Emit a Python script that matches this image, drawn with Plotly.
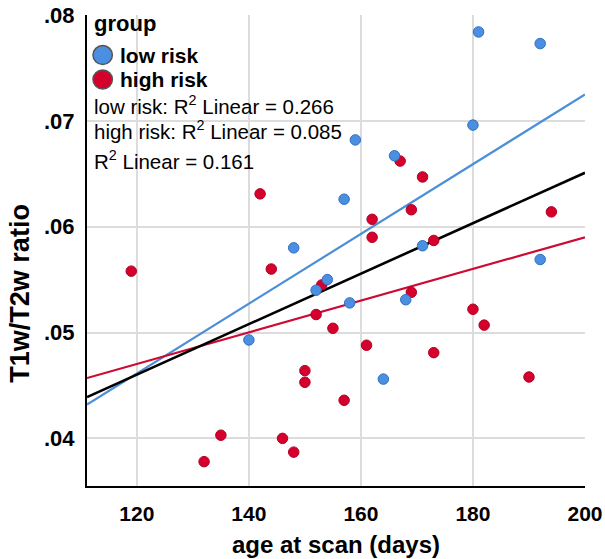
import plotly.graph_objects as go

# ---- data ----
low_age = [181, 192, 180, 159, 166, 157, 148, 171, 154, 152, 158, 168, 140, 164, 192]
low_ratio = [0.0784, 0.0773, 0.0696, 0.0682, 0.0667, 0.0626, 0.0580, 0.0582, 0.0550,
             0.0540, 0.0528, 0.0531, 0.0493, 0.0456, 0.0569]

high_age = [119, 142, 144, 135, 132, 146, 148, 167, 171, 169, 162, 162, 173, 153, 169,
            152, 155, 161, 173, 150, 150, 157, 194, 180, 182, 190]
high_ratio = [0.0558, 0.0631, 0.0560, 0.0403, 0.0378, 0.0400, 0.0387, 0.0662, 0.0647,
              0.0616, 0.0607, 0.0590, 0.0587, 0.0545, 0.0538, 0.0517, 0.0504, 0.0488,
              0.0481, 0.0464, 0.0453, 0.0436, 0.0614, 0.0522, 0.0507, 0.0458]

# fitted linear lines as shown in the chart, evaluated at the ends of the x axis
fit_age = [111.1, 200]
fit_low = [0.0432, 0.0725]
fit_high = [0.0457, 0.0590]
fit_all = [0.0439, 0.0651]

group_names = ["low risk", "high risk"]
r2_labels = ["low risk: R<sup>2</sup> Linear = 0.266",
             "high risk: R<sup>2</sup> Linear = 0.085",
             "R<sup>2</sup> Linear = 0.161"]

x_ticks = [120, 140, 160, 180, 200]
y_ticks = [0.04, 0.05, 0.06, 0.07, 0.08]
y_ticktext = [".04", ".05", ".06", ".07", ".08"]
x_range = [111.1, 200]
y_range = [0.0355, 0.08]

# ---- styles ----
BLUE_FILL = "#4b8fe0"
BLUE_EDGE = "#2f6fc4"
BLUE_LINE = "#4a8fd8"
RED_FILL = "#d5002b"
RED_EDGE = "#b00024"
RED_LINE = "#cc0a33"
FONT = "Liberation Sans, Arial, sans-serif"

fig = go.Figure()

fig.add_trace(go.Scatter(x=fit_age, y=fit_low, mode="lines", line=dict(color=BLUE_LINE, width=2.2),
                         showlegend=False, hoverinfo="skip"))
fig.add_trace(go.Scatter(x=fit_age, y=fit_high, mode="lines", line=dict(color=RED_LINE, width=2.2),
                         showlegend=False, hoverinfo="skip"))
fig.add_trace(go.Scatter(x=fit_age, y=fit_all, mode="lines", line=dict(color="black", width=2.6),
                         showlegend=False, hoverinfo="skip"))

fig.add_trace(go.Scatter(x=high_age, y=high_ratio, mode="markers", name=group_names[1],
                         marker=dict(size=10.5, color=RED_FILL, line=dict(color=RED_EDGE, width=1)),
                         showlegend=False))
fig.add_trace(go.Scatter(x=low_age, y=low_ratio, mode="markers", name=group_names[0],
                         marker=dict(size=10.5, color=BLUE_FILL, line=dict(color=BLUE_EDGE, width=1)),
                         showlegend=False))

shapes = [
    dict(type="rect", xref="paper", yref="paper", x0=0.003, x1=0.30, y0=0.894, y1=0.997,
         fillcolor="white", line=dict(width=0), layer="between"),
    dict(type="rect", xref="paper", yref="paper", x0=0.003, x1=0.544, y0=0.650, y1=0.895,
         fillcolor="white", line=dict(width=0), layer="between"),
    dict(type="circle", xref="paper", yref="paper", x0=0.012, x1=0.051, y0=0.895, y1=0.935,
         fillcolor=BLUE_FILL, line=dict(color="#555555", width=1.5), layer="above"),
    dict(type="circle", xref="paper", yref="paper", x0=0.012, x1=0.051, y0=0.843, y1=0.883,
         fillcolor=RED_FILL, line=dict(color="#555555", width=1.5), layer="above"),
]

ann = [
    dict(text="<b>group</b>", x=0.011, y=0.981, font=dict(size=22)),
    dict(text="<b>" + group_names[0] + "</b>", x=0.062, y=0.915, font=dict(size=21)),
    dict(text="<b>" + group_names[1] + "</b>", x=0.062, y=0.862, font=dict(size=21)),
    dict(text=r2_labels[0], x=0.011, y=0.809, font=dict(size=20.5)),
    dict(text=r2_labels[1], x=0.011, y=0.756, font=dict(size=20.5)),
    dict(text=r2_labels[2], x=0.011, y=0.692, font=dict(size=20.5)),
]
annotations = []
for a in ann:
    a.update(xref="paper", yref="paper", xanchor="left", yanchor="middle", showarrow=False)
    a["font"].update(family=FONT, color="black")
    annotations.append(a)

# y axis title
annotations.append(dict(text="<b>T1w/T2w ratio</b>", xref="paper", yref="paper",
                        x=-0.135, y=0.41, xanchor="center", yanchor="middle",
                        textangle=-90, showarrow=False,
                        font=dict(size=27, family=FONT, color="black")))

fig.update_layout(
    width=605, height=559,
    margin=dict(l=87, r=20, t=15, b=73, autoexpand=False),
    paper_bgcolor="white", plot_bgcolor="white",
    font=dict(family=FONT, color="black"),
    shapes=shapes, annotations=annotations,
    showlegend=False,
)
fig.update_xaxes(
    range=x_range, tickvals=x_ticks, ticktext=[str(v) for v in x_ticks],
    showgrid=True, gridcolor="#dcdcdc", gridwidth=1.5,
    showline=True, linecolor="black", linewidth=2.2,
    zeroline=False, ticks="", ticklabelstandoff=8, automargin=False,
    tickfont=dict(size=21, family=FONT, color="black", weight="bold"),
    title=dict(text="<b>age at scan (days)</b>", font=dict(size=24, family=FONT, color="black"),
               standoff=12),
)
fig.update_yaxes(
    range=y_range, tickvals=y_ticks, ticktext=y_ticktext,
    showgrid=True, gridcolor="#dcdcdc", gridwidth=1.5,
    showline=True, linecolor="black", linewidth=2.2,
    zeroline=False, ticks="", ticklabelstandoff=6, automargin=False,
    tickfont=dict(size=22, family=FONT, color="black", weight="bold"),
)

# remove the default page margin so the 605x559 figure fills the window exactly
fig.write_html("out.html", config={"displayModeBar": False},
               post_script="document.body.style.margin='0';document.body.style.overflow='hidden';")
